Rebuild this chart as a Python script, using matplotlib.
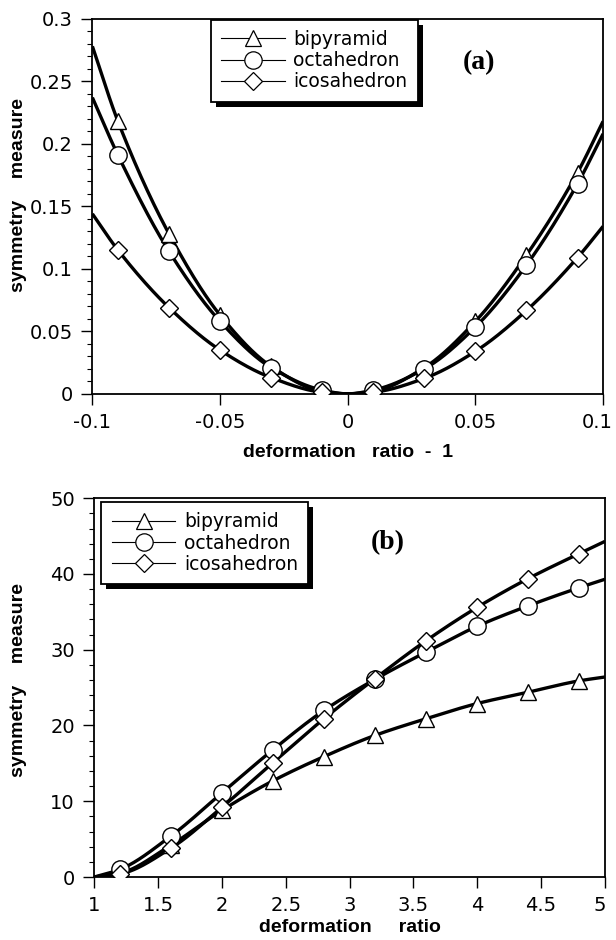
import numpy as np
import matplotlib
matplotlib.use("Agg")
import matplotlib.pyplot as plt
from matplotlib.lines import Line2D
from matplotlib.patches import Rectangle
from matplotlib.transforms import IdentityTransform, ScaledTranslation
from matplotlib.ticker import MultipleLocator, FixedLocator, FixedFormatter

plt.rcParams['font.family'] = ['DejaVu Sans']

# ---------------- data: panel (a) ----------------
xa = [-0.1, -0.09, -0.07, -0.05, -0.03, -0.01, 0.0, 0.01, 0.03, 0.05, 0.07, 0.09, 0.1]
bip_a = [0.278, 0.218, 0.128, 0.063, 0.022, 0.002, 0.0, 0.002, 0.021, 0.058, 0.111, 0.177, 0.218]
oct_a = [0.237, 0.191, 0.114, 0.058, 0.021, 0.003, 0.0, 0.003, 0.020, 0.0535, 0.103, 0.168, 0.208]
ico_a = [0.144, 0.115, 0.069, 0.035, 0.013, 0.0013, 0.0, 0.0013, 0.0124, 0.034, 0.0667, 0.109, 0.134]
marked_a = [False, True, True, True, True, True, False, True, True, True, True, True, False]
xticks_a = [-0.1, -0.05, 0.0, 0.05, 0.1]
xticklabels_a = ["-0.1", "-0.05", "0", "0.05", "0.1"]
yticks_a = [0, 0.05, 0.1, 0.15, 0.2, 0.25, 0.3]
yticklabels_a = ["0", "0.05", "0.1", "0.15", "0.2", "0.25", "0.3"]

# ---------------- data: panel (b) ----------------
xb = [1.0, 1.2, 1.6, 2.0, 2.4, 2.8, 3.2, 3.6, 4.0, 4.4, 4.8, 5.0]
bip_b = [0.0, 0.5, 4.2, 8.8, 12.7, 15.9, 18.7, 20.9, 22.9, 24.4, 25.9, 26.4]
oct_b = [0.0, 1.0, 5.4, 11.1, 16.8, 22.0, 26.1, 29.7, 33.1, 35.8, 38.2, 39.3]
ico_b = [0.0, 0.4, 3.8, 9.2, 15.1, 20.9, 26.2, 31.2, 35.6, 39.4, 42.7, 44.3]
marked_b = [False, True, True, True, True, True, True, True, True, True, True, False]
xticks_b = [1, 1.5, 2, 2.5, 3, 3.5, 4, 4.5, 5]
xticklabels_b = ["1", "1.5", "2", "2.5", "3", "3.5", "4", "4.5", "5"]
yticks_b = [0, 10, 20, 30, 40, 50]
yticklabels_b = ["0", "10", "20", "30", "40", "50"]

series_names = ["bipyramid", "octahedron", "icosahedron"]
markers = ["^", "o", "D"]
msizes = [11.5, 12.5, 9.0]

BOLD = ['Liberation Sans', 'DejaVu Sans']
SERIF = ['Liberation Serif', 'DejaVu Serif']


def pchip(x, y, n=400):
    """Monotone cubic (PCHIP) rendering of a curve through the read points."""
    x = np.asarray(x, float); y = np.asarray(y, float)
    h = np.diff(x); d = np.diff(y) / h
    m = np.zeros_like(y)
    for k in range(1, len(x) - 1):
        if d[k - 1] * d[k] > 0:
            w1 = 2 * h[k] + h[k - 1]; w2 = h[k] + 2 * h[k - 1]
            m[k] = (w1 + w2) / (w1 / d[k - 1] + w2 / d[k])
    m[0] = d[0]; m[-1] = d[-1]
    xs = np.linspace(x[0], x[-1], n)
    idx = np.clip(np.searchsorted(x, xs) - 1, 0, len(x) - 2)
    t = (xs - x[idx]) / h[idx]
    h00 = 2 * t**3 - 3 * t**2 + 1; h10 = t**3 - 2 * t**2 + t
    h01 = -2 * t**3 + 3 * t**2; h11 = t**3 - t**2
    ys = h00 * y[idx] + h10 * h[idx] * m[idx] + h01 * y[idx + 1] + h11 * h[idx] * m[idx + 1]
    return xs, ys


fig = plt.figure(figsize=(6.16, 9.4), dpi=100)
ax_a = fig.add_axes([0.150, 0.581, 0.829, 0.399])
ax_b = fig.add_axes([0.153, 0.067, 0.829, 0.403])


def draw_panel(ax, x, ys, marked):
    x = np.asarray(x)
    mk = np.asarray(marked)
    for y, m, ms in zip(ys, markers, msizes):
        xs, yy = pchip(x, y)
        ax.plot(xs, yy, color='black', lw=2.4, solid_capstyle='butt', zorder=2)
        ax.plot(x[mk], np.asarray(y)[mk], linestyle='none', marker=m, ms=ms,
                mfc='white', mec='black', mew=1.0, zorder=3)


def style_axes(ax, xt, xtl, yt, ytl, ymin_step):
    ax.xaxis.set_major_locator(FixedLocator(xt))
    ax.xaxis.set_major_formatter(FixedFormatter(xtl))
    ax.yaxis.set_major_locator(FixedLocator(yt))
    ax.yaxis.set_major_formatter(FixedFormatter(ytl))
    ax.yaxis.set_minor_locator(MultipleLocator(ymin_step))
    ax.tick_params(which='major', direction='out', length=8, width=1.0,
                   labelsize=14, pad=6, top=False, right=False)
    ax.tick_params(which='minor', direction='out', length=3.5, width=0.8,
                   top=False, right=False)
    for s in ax.spines.values():
        s.set_linewidth(1.3)


def legend(ax, loc_bbox):
    handles = [Line2D([], [], color='black', lw=0.8, marker=m, ms=ms,
                      mfc='white', mec='black', mew=0.9)
               for m, ms in zip(markers, msizes)]
    leg = ax.legend(handles, series_names, loc='upper left', bbox_to_anchor=loc_bbox,
                    frameon=True, fancybox=False, shadow=False,
                    edgecolor='black', framealpha=1.0, fontsize=13.5,
                    handlelength=3.4, handletextpad=0.45, labelspacing=0.12,
                    borderpad=0.55, borderaxespad=0.0)
    leg.get_frame().set_linewidth(1.3)
    return leg


# Panel (a)
draw_panel(ax_a, xa, [bip_a, oct_a, ico_a], marked_a)
ax_a.set_xlim(-0.1, 0.1)
ax_a.set_ylim(0, 0.3)
style_axes(ax_a, xticks_a, xticklabels_a, yticks_a, yticklabels_a, 0.01)
ax_a.set_xlabel("deformation   ratio  -  1", fontsize=14, fontweight='bold', family=BOLD)
ax_a.xaxis.set_label_coords(0.5, -0.135)
ax_a.set_ylabel("symmetry    measure", fontsize=14, fontweight='bold', family=BOLD)
ax_a.yaxis.set_label_coords(-0.128, 0.53)
leg_a = legend(ax_a, (0.232, 0.998))
ax_a.text(0.758, 0.883, "(a)", transform=ax_a.transAxes, fontsize=20,
          fontweight='bold', family=SERIF, ha='center', va='center')

# Panel (b)
draw_panel(ax_b, xb, [bip_b, oct_b, ico_b], marked_b)
ax_b.set_xlim(1, 5)
ax_b.set_ylim(0, 50)
style_axes(ax_b, xticks_b, xticklabels_b, yticks_b, yticklabels_b, 2)
ax_b.set_xlabel("deformation     ratio", fontsize=14, fontweight='bold', family=BOLD)
ax_b.xaxis.set_label_coords(0.5, -0.112)
ax_b.set_ylabel("symmetry    measure", fontsize=14, fontweight='bold', family=BOLD)
ax_b.yaxis.set_label_coords(-0.131, 0.52)
leg_b = legend(ax_b, (0.014, 0.99))
ax_b.text(0.575, 0.883, "(b)", transform=ax_b.transAxes, fontsize=20,
          fontweight='bold', family=SERIF, ha='center', va='center')

# keep the right-most tick labels inside the figure edge
for ax in (ax_a, ax_b):
    lab = ax.get_xticklabels()[-1]
    lab.set_transform(lab.get_transform() + ScaledTranslation(-4 / 72, 0, fig.dpi_scale_trans))

# solid black drop shadows behind the legend boxes
fig.canvas.draw()
for ax, leg in ((ax_a, leg_a), (ax_b, leg_b)):
    bb = leg.get_frame().get_window_extent()
    sh = Rectangle((bb.x0 + 5, bb.y0 - 5), bb.width, bb.height, transform=IdentityTransform(),
                   facecolor='black', edgecolor='none', zorder=4.5, clip_on=False)
    ax.add_artist(sh)

fig.savefig("out.png", dpi=100)
